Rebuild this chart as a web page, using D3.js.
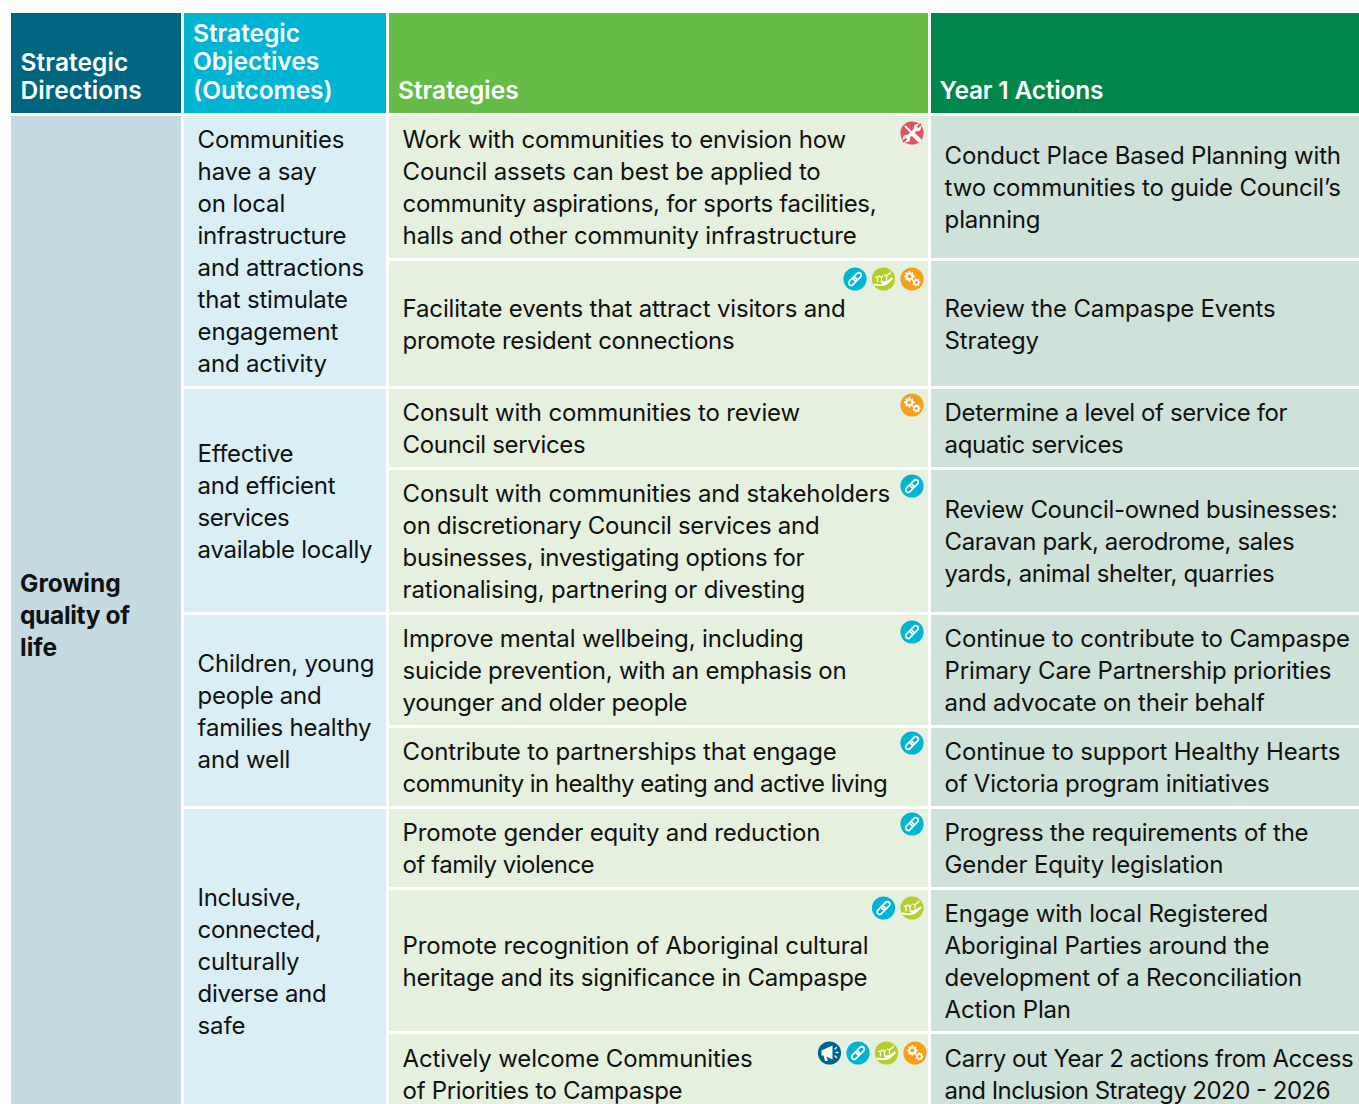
<!DOCTYPE html>
<html>
<head>
<meta charset="utf-8">
<script src="https://cdn.jsdelivr.net/npm/d3@7"></script>
<style>
    html, body { margin: 0; padding: 0; background: #fff; overflow: hidden; }
    svg { display: block; }
    text { font-family: Inter, "Noto Sans", sans-serif; }
</style>
</head>
<body>
<script>
const headers = [
    ['Strategic', 'Directions'],
    ['Strategic', 'Objectives', '(Outcomes)'],
    ['Strategies'],
    ['Year 1 Actions']
];
const directions = [['Growing', 'quality of', 'life']];
const objectives = [
    ['Communities', 'have a say', 'on local', 'infrastructure', 'and attractions', 'that stimulate', 'engagement', 'and activity'],
    ['Effective', 'and efficient', 'services', 'available locally'],
    ['Children, young', 'people and', 'families healthy', 'and well'],
    ['Inclusive,', 'connected,', 'culturally', 'diverse and', 'safe']
];
const objectiveRows = [[0, 1], [2, 3], [4, 5], [6, 8]];
const strategies = [
    ['Work with communities to envision how', 'Council assets can best be applied to', 'community aspirations, for sports facilities,', 'halls and other community infrastructure'],
    ['Facilitate events that attract visitors and', 'promote resident connections'],
    ['Consult with communities to review', 'Council services'],
    ['Consult with communities and stakeholders', 'on discretionary Council services and', 'businesses, investigating options for', 'rationalising, partnering or divesting'],
    ['Improve mental wellbeing, including', 'suicide prevention, with an emphasis on', 'younger and older people'],
    ['Contribute to partnerships that engage', 'community in healthy eating and active living'],
    ['Promote gender equity and reduction', 'of family violence'],
    ['Promote recognition of Aboriginal cultural', 'heritage and its significance in Campaspe'],
    ['Actively welcome Communities', 'of Priorities to Campaspe']
];
const actions = [
    ['Conduct Place Based Planning with', 'two communities to guide Council\u2019s', 'planning'],
    ['Review the Campaspe Events', 'Strategy'],
    ['Determine a level of service for', 'aquatic services'],
    ['Review Council-owned businesses:', 'Caravan park, aerodrome, sales', 'yards, animal shelter, quarries'],
    ['Continue to contribute to Campaspe', 'Primary Care Partnership priorities', 'and advocate on their behalf'],
    ['Continue to support Healthy Hearts', 'of Victoria program initiatives'],
    ['Progress the requirements of the', 'Gender Equity legislation'],
    ['Engage with local Registered', 'Aboriginal Parties around the', 'development of a Reconciliation', 'Action Plan'],
    ['Carry out Year 2 actions from Access', 'and Inclusion Strategy 2020 - 2026']
];
const strategyIcons = [
    ['tools'],
    ['link', 'growth', 'gears'],
    ['gears'],
    ['link'],
    ['link'],
    ['link'],
    ['link'],
    ['link', 'growth'],
    ['voice', 'link', 'growth', 'gears']
];

// layout
const width = 1359;
const height = 1104;
const columns = [
    { x: 11, w: 170, head: '#00667f', fill: '#c5d9e0' },
    { x: 184, w: 202, head: '#00b5d3', fill: '#daeff5' },
    { x: 389, w: 539, head: '#65bc46', fill: '#e6f0df' },
    { x: 931, w: 428, head: '#00854a', fill: '#cfe2d9' }
];
const rowEdges = [116, 261, 389, 470, 615, 728, 809, 890, 1034, 1116];
const rowGap = 3;
const lineHeight = 32;
const iconColor = { tools: '#e5505f', link: '#00b5d3', growth: '#b5cd2a', gears: '#f9a01b', voice: '#00628f' };
const iconY = [133, 279, 405, 486, 632, 743, 824, 908, 1053];

// the original typeface runs narrower on these lines, so fit them to the width seen
const fitWidths = new Map([
    ['quality of', 110],
    ['infrastructure', 149],
    ['Effective', 96],
    ['and efficient', 138],
    ['services', 92],
    ['available locally', 175],
    ['people and', 124],
    ['families healthy', 174],
    ['Inclusive,', 104],
    ['connected,', 124],
    ['culturally', 102],
    ['diverse and', 129],
    ['community aspirations, for sports facilities,', 474],
    ['promote resident connections', 332],
    ['Council services', 183],
    ['businesses, investigating options for', 402],
    ['on discretionary Council services and', 417],
    ['suicide prevention, with an emphasis on', 444],
    ['younger and older people', 285],
    ['community in healthy eating and active living', 485],
    ['of family violence', 192],
    ['heritage and its significance in Campaspe', 465],
    ['of Priorities to Campaspe', 280],
    ['Determine a level of service for', 343],
    ['aquatic services', 179],
    ['Review Council-owned businesses:', 393],
    ['Caravan park, aerodrome, sales', 350],
    ['yards, animal shelter, quarries', 330],
    ['of Victoria program initiatives', 325],
    ['Progress the requirements of the', 364],
    ['Carry out Year 2 actions from Access', 409],
    ['and Inclusion Strategy 2020 - 2026', 386]
]);

const svg = d3.select('body')
    .append('svg')
    .attr('width', width)
    .attr('height', height);

// header
const head = svg.selectAll('g.head')
    .data(headers)
    .join('g')
    .attr('class', 'head');

head.append('rect')
    .attr('x', (d, i) => columns[i].x)
    .attr('y', 13)
    .attr('width', (d, i) => columns[i].w)
    .attr('height', 100)
    .attr('fill', (d, i) => columns[i].head);

head.each(function (lines, i) {
    d3.select(this).selectAll('text')
        .data(lines)
        .join('text')
        .attr('x', columns[i].x + (i === 0 ? 9.6 : i === 3 ? 8.6 : 9))
        .attr('y', (d, k) => 99 - (lines.length - 1 - k) * (lines.length === 2 ? 28 : 28.6))
        .attr('fill', '#fff')
        .style('font-size', '24.5px')
        .style('font-weight', 600)
        .style('letter-spacing', i === 3 ? '-0.2px' : i === 0 ? '0.08px' : '0')
        .text(d => d);
});

function addCell(col, fromRow, toRow, lines, bold) {
    const top = rowEdges[fromRow];
    const bottom = rowEdges[toRow + 1] - rowGap;
    const g = svg.append('g');
    g.append('rect')
        .attr('x', columns[col].x)
        .attr('y', top)
        .attr('width', columns[col].w)
        .attr('height', bottom - top)
        .attr('fill', columns[col].fill);
    const mid = (top + bottom) / 2 + 1;
    g.selectAll('text')
        .data(lines)
        .join('text')
        .attr('x', columns[col].x + (col === 0 ? 9 : 13.6))
        .attr('y', (d, k) => mid + (k - (lines.length - 1) / 2) * lineHeight + 8)
        .attr('textLength', d => fitWidths.get(d))
        .attr('lengthAdjust', d => fitWidths.has(d) ? 'spacing' : null)
        .attr('fill', '#111')
        .style('font-size', bold ? '24.5px' : '24px')
        .style('letter-spacing', d => bold || fitWidths.has(d) ? null : '-0.16px')
        .style('font-weight', bold ? 700 : 400)
        .text(d => d);
}

addCell(0, 0, 8, directions[0], true);
objectives.forEach((lines, i) => addCell(1, objectiveRows[i][0], objectiveRows[i][1], lines, false));
strategies.forEach((lines, i) => addCell(2, i, i, lines, false));
actions.forEach((lines, i) => addCell(3, i, i, lines, false));

// icons, right aligned in the strategy cell
function gearPath(r, teeth) {
    const pts = [];
    d3.range(teeth * 4).forEach(k => {
        const a = (k - 0.5) / (teeth * 4) * 2 * Math.PI;
        const rr = k % 4 < 2 ? r : r * 0.74;
        pts.push([rr * Math.cos(a), rr * Math.sin(a)]);
    });
    return d3.line()(pts) + 'Z';
}

const iconPainters = {
    tools(g) {
        g.append('path')
            .attr('d', 'M-5,5 L5,-5')
            .attr('stroke', '#fff').attr('stroke-width', 3.4).attr('stroke-linecap', 'round');
        g.append('circle').attr('cx', 5.4).attr('cy', -5.4).attr('r', 3.6).attr('fill', '#fff');
        g.append('circle').attr('cx', -5.4).attr('cy', 5.4).attr('r', 3.6).attr('fill', '#fff');
        g.append('path')
            .attr('d', 'M5.6,-5.6 L9,-9 M-5.6,5.6 L-9,9')
            .attr('stroke', iconColor.tools).attr('stroke-width', 2.2);
        g.append('path')
            .attr('d', 'M-7,-7 L-1,-1')
            .attr('stroke', '#fff').attr('stroke-width', 2);
        g.append('path')
            .attr('d', 'M1,1 L7,7')
            .attr('stroke', '#fff').attr('stroke-width', 4.2).attr('stroke-linecap', 'round');
    },
    link(g) {
        g.selectAll('rect')
            .data([-3.3, 3.3])
            .join('rect')
            .attr('x', d => d - 4.6)
            .attr('y', -2.5)
            .attr('width', 9.2)
            .attr('height', 5)
            .attr('rx', 2.5)
            .attr('fill', 'none')
            .attr('stroke', '#fff')
            .attr('stroke-width', 1.7)
            .attr('transform', 'rotate(-45)');
    },
    growth(g) {
        g.append('path')
            .attr('d', 'M-9,5.5 C-4,6.5 2,6 5,3 L9,-1 C6,2 3,3.5 -1,3.5')
            .attr('fill', 'none').attr('stroke', '#fff').attr('stroke-width', 1.8).attr('stroke-linecap', 'round');
        g.append('path')
            .attr('d', 'M-6,3 V-1 M-8,-2 L-6,-1 L-5,-3 M-2,3 V-1 M-4,-3 L-2,-1 L-1,-3 M3,1 V-3 M1,-4 L3,-3 L5,-5 M6,-5 L7,-7')
            .attr('fill', 'none').attr('stroke', '#fff').attr('stroke-width', 1.2).attr('stroke-linecap', 'round');
    },
    gears(g) {
        const gears = [[-2.6, -2.6, 5.4, 8], [4.4, 3.4, 4.2, 7]];
        gears.forEach(([x, y, r, teeth]) => {
            g.append('path')
                .attr('transform', `translate(${x},${y})`)
                .attr('d', gearPath(r, teeth))
                .attr('fill', '#fff');
            g.append('circle')
                .attr('cx', x).attr('cy', y).attr('r', r * 0.36)
                .attr('fill', iconColor.gears);
        });
    },
    voice(g) {
        g.append('path')
            .attr('d', 'M-8,-2.5 L3,-7.5 V6.5 L-3,3.5 L-1.5,8 H-4.5 L-6,2.5 H-8 Z')
            .attr('fill', '#fff');
        g.append('path')
            .attr('d', 'M5.5,-4 L7,-5.5 M6.5,-0.5 H8.5 M5.5,3 L7,4.5')
            .attr('stroke', '#fff').attr('stroke-width', 1.3).attr('stroke-linecap', 'round');
    }
};

strategyIcons.forEach((names, i) => {
    const right = names.length === 4 ? 915 : 912;
    const x = d3.scalePoint()
        .domain(d3.range(names.length))
        .range([right - (names.length - 1) * 28.5, right]);
    svg.selectAll(null)
        .data(names)
        .join('g')
        .attr('transform', (d, k) => `translate(${x(k)},${iconY[i]})`)
        .each(function (name) {
            const g = d3.select(this);
            g.append('circle').attr('r', 11.6).attr('fill', iconColor[name]);
            iconPainters[name](g);
        });
});
</script>
</body>
</html>
